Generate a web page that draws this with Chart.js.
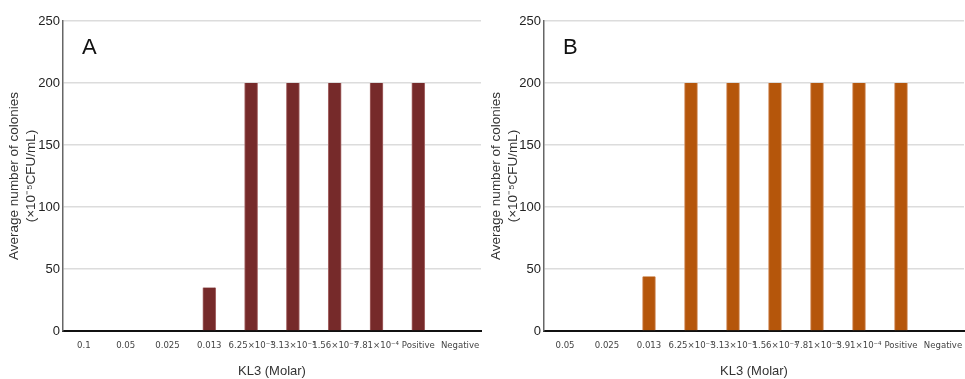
<!DOCTYPE html>
<html>
<head>
<meta charset="utf-8">
<script src="https://cdn.jsdelivr.net/npm/chart.js@4.4.1/dist/chart.umd.min.js"></script>
<style>
  html, body { margin: 0; padding: 0; background: #fff; }
  .wrap { display: flex; width: 965px; height: 379px; }
  .panel { position: relative; height: 379px; }
  #panel-a { width: 482px; }
  #panel-b { width: 483px; }
</style>
</head>
<body>
<div class="wrap">
  <div class="panel" id="panel-a"><canvas id="chart-a"></canvas></div>
  <div class="panel" id="panel-b"><canvas id="chart-b"></canvas></div>
</div>
<script>
const LABELS_A = ['0.1', '0.05', '0.025', '0.013', '6.25×10⁻³', '3.13×10⁻³', '1.56×10⁻³', '7.81×10⁻⁴', 'Positive', 'Negative'];
const VALUES_A = [0, 0, 0, 35, 200, 200, 200, 200, 200, 0];

const LABELS_B = ['0.05', '0.025', '0.013', '6.25×10⁻³', '3.13×10⁻³', '1.56×10⁻³', '7.81×10⁻⁴', '3.91×10⁻⁴', 'Positive', 'Negative'];
const VALUES_B = [0, 0, 44, 200, 200, 200, 200, 200, 200, 0];

const Y_TICKS = [0, 50, 100, 150, 200, 250];

const X_TITLE = 'KL3 (Molar)';
const Y_TITLE = ['Average number of colonies', '(×10⁻⁵CFU/mL)'];

const NARROW = "'DejaVu Sans Condensed', 'Liberation Sans', Arial, sans-serif";
const SANS = "'Liberation Sans', Arial, sans-serif";

function panelLetterPlugin(letter) {
    return {
        id: 'panelLetter',
        afterDraw(chart) {
            const { ctx, chartArea } = chart;
            ctx.save();
            ctx.font = '22px ' + SANS;
            ctx.fillStyle = '#111';
            ctx.textBaseline = 'middle';
            ctx.fillText(letter, chartArea.left + 19, chartArea.top + 27);
            ctx.restore();
        }
    };
}

function makeChart(id, labels, values, color, border, letter, yWidth) {
    new Chart(document.getElementById(id), {
        type: 'bar',
        data: {
            labels: labels,
            datasets: [{
                data: values,
                backgroundColor: color,
                borderColor: border,
                borderWidth: { left: 1, right: 1, top: 0, bottom: 0 },
                borderSkipped: false,
                barThickness: 13
            }]
        },
        options: {
            responsive: true,
            maintainAspectRatio: false,
            animation: false,
            layout: { padding: { top: 21, right: 1, left: 0, bottom: 0 } },
            plugins: {
                legend: { display: false },
                tooltip: { enabled: false }
            },
            scales: {
                x: {
                    grid: { display: false, drawTicks: false },
                    border: { color: '#111', width: 2 },
                    ticks: {
                        autoSkip: false,
                        maxRotation: 0,
                        minRotation: 0,
                        padding: 9,
                        color: '#444',
                        font: { family: NARROW, size: 9.5 }
                    },
                    title: {
                        display: true,
                        text: X_TITLE,
                        color: '#333',
                        font: { family: SANS, size: 13 },
                        padding: { top: 8, bottom: 0 }
                    },
                    afterFit(scale) {
                        scale.height = 48;
                        scale.paddingLeft = 0;
                        scale.paddingRight = 0;
                    }
                },
                y: {
                    min: 0,
                    max: 250,
                    afterBuildTicks(scale) {
                        scale.ticks = Y_TICKS.map(v => ({ value: v }));
                    },
                    grid: { color: '#dcdcdc', lineWidth: 1.5, drawTicks: false },
                    border: { color: '#666', width: 1.5 },
                    ticks: {
                        padding: 3,
                        color: '#222',
                        font: { family: SANS, size: 13 }
                    },
                    title: {
                        display: true,
                        text: Y_TITLE,
                        color: '#333',
                        font: { family: SANS, size: 13.5, lineHeight: 1.25 },
                        padding: { top: 6, bottom: 0 }
                    },
                    afterFit(scale) {
                        scale.width = yWidth;
                    }
                }
            }
        },
        plugins: [panelLetterPlugin(letter)]
    });
}

makeChart('chart-a', LABELS_A, VALUES_A, '#762a2a', '#a86a6a', 'A', 63);
makeChart('chart-b', LABELS_B, VALUES_B, '#b5560b', '#d49060', 'B', 62);
</script>
</body>
</html>
